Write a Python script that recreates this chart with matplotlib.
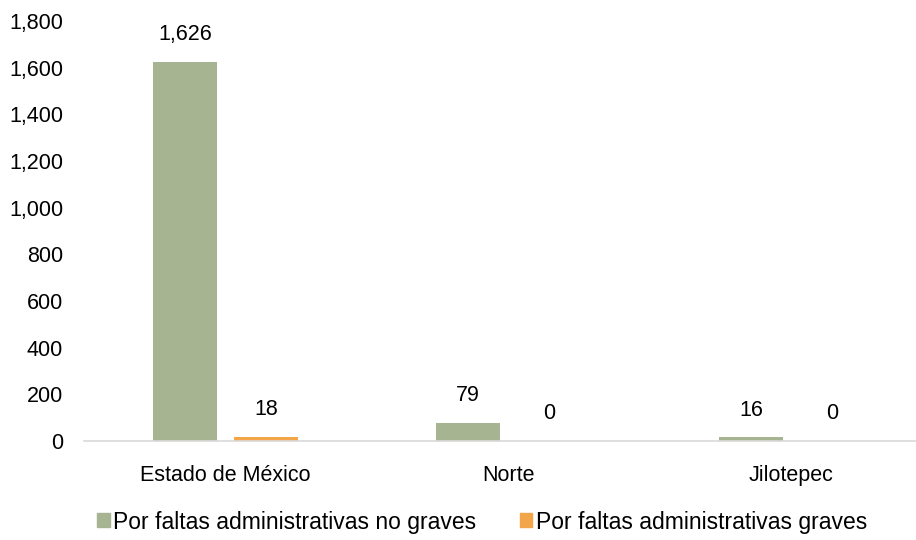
import matplotlib
matplotlib.use("Agg")
import matplotlib.pyplot as plt
from matplotlib.patches import Patch
import numpy as np

categories = ["Estado de México", "Norte", "Jilotepec"]
series_names = ["Por faltas administrativas no graves", "Por faltas administrativas graves"]
no_graves = [1626, 79, 16]
graves = [18, 0, 0]
yticks = [0, 200, 400, 600, 800, 1000, 1200, 1400, 1600, 1800]

green = "#a6b491"
orange = "#f3a54a"

plt.rcParams['font.family'] = ['Liberation Sans', 'DejaVu Sans']
W, H = 916, 540
fig = plt.figure(figsize=(W/100, H/100), dpi=100)
left, right, top, bottom = 84, 916, 21, 441
ax = fig.add_axes([left/W, 1 - bottom/H, (right-left)/W, (bottom-top)/H])

fs = 15.5
x = np.arange(len(categories))
bw = 0.226
off = 0.143
b1 = ax.bar(x - off, no_graves, bw, color=green, label=series_names[0])
b2 = ax.bar(x + off, graves, bw, color=orange, label=series_names[1])

for bars, vals in ((b1, no_graves), (b2, graves)):
    for rect, v in zip(bars, vals):
        ax.annotate(f"{v:,}", (rect.get_x() + rect.get_width()/2, rect.get_height()),
                    xytext=(0, 12), textcoords="offset points",
                    ha="center", va="bottom", fontsize=fs, color="#000000")

ax.set_ylim(0, 1800)
ax.set_xlim(-0.5, -0.5 + (right-left)/283)
ax.set_yticks(yticks)
ax.set_yticklabels([f"{v:,}" for v in yticks])
ax.set_xticks(x)
ax.set_xticklabels(categories)
ax.tick_params(axis='y', length=0, pad=15, labelsize=fs)
ax.tick_params(axis='x', length=0, pad=17, labelsize=fs)
for s in ["left", "right", "top"]:
    ax.spines[s].set_visible(False)
ax.spines["bottom"].set_color("#d9d9d9")
ax.spines["bottom"].set_linewidth(1.2)

handles = [Patch(color=green), Patch(color=orange)]
fig.legend(handles, series_names, loc="center", bbox_to_anchor=(482/W, 1 - 522/H),
           ncol=2, frameon=False, fontsize=16.5, handlelength=0.55, handleheight=0.55,
           handletextpad=0.15, columnspacing=1.9, borderaxespad=0)

fig.savefig("out.png", dpi=100)
